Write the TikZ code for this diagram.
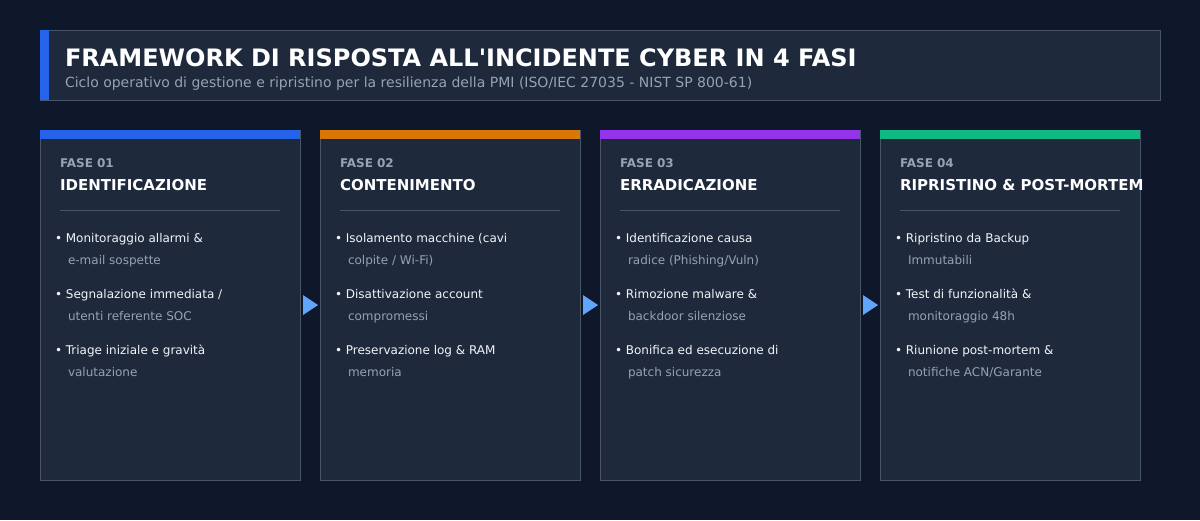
\documentclass[tikz,border=0pt]{standalone}
\usepackage{fontspec}
\setmainfont{DejaVu Sans}
\definecolor{bgc}{HTML}{0F172A}
\definecolor{cardc}{HTML}{1E293B}
\definecolor{edgec}{HTML}{475569}
\definecolor{mutedc}{HTML}{94A3B8}
\definecolor{textc}{HTML}{F1F5F9}
\definecolor{bluec}{HTML}{2563EB}
\definecolor{orangec}{HTML}{D97706}
\definecolor{purplec}{HTML}{9333EA}
\definecolor{greenc}{HTML}{10B981}
\definecolor{arrowc}{HTML}{60A5FA}
\begin{document}
\begin{tikzpicture}[x=1pt,y=-1pt,
  txt/.style={anchor=base west,inner sep=0pt,outer sep=0pt},
  fase/.style={txt,font=\fontsize{12}{14}\selectfont\bfseries,text=mutedc},
  ctitle/.style={txt,font=\fontsize{15}{18}\selectfont\bfseries,text=white},
  bullet/.style={txt,font=\fontsize{12}{14}\selectfont,text=textc},
  sub/.style={txt,font=\fontsize{12}{14}\selectfont,text=mutedc},
  card/.style={fill=cardc,draw=edgec,line width=0.8pt},
  arrowtri/.style={fill=arrowc,draw=none}]
\useasboundingbox (0,0) rectangle (1200,520);
\fill[bgc] (0,0) rectangle (1200,520);
% header
\draw[fill=cardc,draw=edgec,line width=0.8pt] (40,30) rectangle (1160,100);
\fill[bluec] (40,30) rectangle (49,100);
\node[txt,font=\fontsize{24}{28}\selectfont\bfseries,text=white] (title) at (65,66) {FRAMEWORK DI RISPOSTA ALL\textquotesingle INCIDENTE CYBER IN 4 FASI};
\node[txt,font=\fontsize{14}{16}\selectfont,text=mutedc] (subtitle) at (65,87) {Ciclo operativo di gestione e ripristino per la resilienza della PMI (ISO/IEC 27035 - NIST SP 800-61)};
% cards
\foreach \x/\col/\num/\name/\a/\b/\c/\d/\e/\f in {
  40/bluec/01/IDENTIFICAZIONE/Monitoraggio allarmi \&/e-mail sospette/Segnalazione immediata \slash/utenti referente SOC/Triage iniziale e gravità/valutazione,
  320/orangec/02/CONTENIMENTO/Isolamento macchine (cavi/colpite \slash\ Wi-Fi)/Disattivazione account/compromessi/Preservazione log \& RAM/memoria,
  600/purplec/03/ERRADICAZIONE/Identificazione causa/radice (Phishing\slash Vuln)/Rimozione malware \&/backdoor silenziose/Bonifica ed esecuzione di/patch sicurezza,
  880/greenc/04/RIPRISTINO \& POST-MORTEM/Ripristino da Backup/Immutabili/Test di funzionalità \&/monitoraggio 48h/Riunione post-mortem \&/notifiche ACN\slash Garante}{
  \draw[card] (\x,130) rectangle ++(260,350);
  \fill[\col] (\x,130) rectangle ++(260,8.5);
  \node[fase] (f\num) at (\x+20,167) {FASE \num};
  \node[ctitle] (t\num) at (\x+20,190) {\name};
  \draw[edgec,line width=0.8pt] (\x+20,210.5) -- (\x+240,210.5);
  \node[bullet] (a\num) at (\x+15,242) {• \a};
  \node[sub] (b\num) at (\x+28,264) {\b};
  \node[bullet] (c\num) at (\x+15,298) {• \c};
  \node[sub] (d\num) at (\x+28,320) {\d};
  \node[bullet] (e\num) at (\x+15,354) {• \e};
  \node[sub] (g\num) at (\x+28,376) {\f};
}
% arrows
\foreach \x [count=\i] in {303,583,863}{
  \fill[arrowtri] (\x,295) -- (\x+15,305) -- (\x,315) -- cycle;
}
\end{tikzpicture}
\end{document}
